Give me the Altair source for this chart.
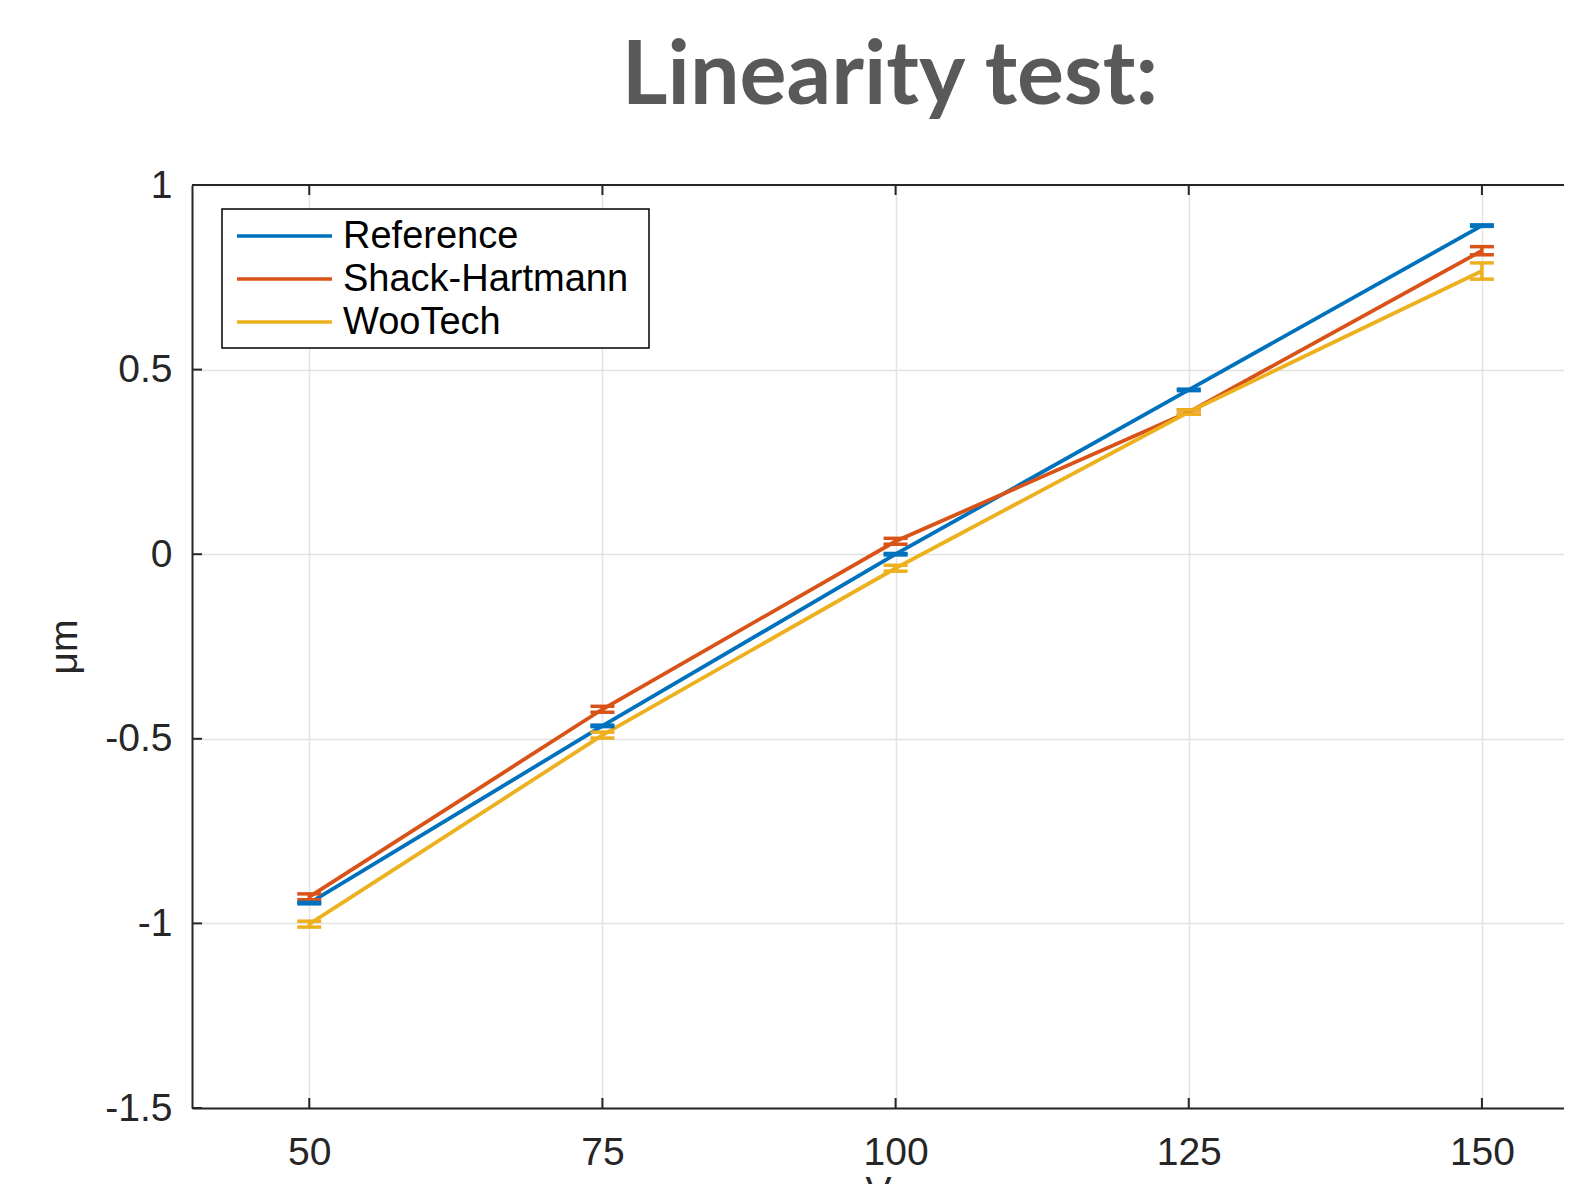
import altair as alt
import pandas as pd

# ---- data ----
voltages = [50, 75, 100, 125, 150]
series_names = ["Reference", "Shack-Hartmann", "WooTech"]
series_colors = ["#0072BD", "#D95319", "#EDB120"]

reference_um = [-0.945, -0.465, 0.000, 0.445, 0.890]
reference_err = [0.002, 0.002, 0.002, 0.002, 0.002]
shack_um = [-0.928, -0.420, 0.035, 0.385, 0.822]
shack_err = [0.008, 0.008, 0.008, 0.006, 0.011]
woo_um = [-1.002, -0.490, -0.038, 0.385, 0.767]
woo_err = [0.008, 0.008, 0.008, 0.006, 0.022]

x_ticks = [50, 75, 100, 125, 150]
y_ticks = [-1.5, -1, -0.5, 0, 0.5, 1]

# ---- layout ----
W, H = 1372, 923
FONT = "Liberation Sans"
AXIS_COLOR = "#262626"

rows = []
for name, vals, errs in [
    ("Reference", reference_um, reference_err),
    ("Shack-Hartmann", shack_um, shack_err),
    ("WooTech", woo_um, woo_err),
]:
    for v, m, e in zip(voltages, vals, errs):
        rows.append({"series": name, "V": v, "um": m, "lo": m - e, "hi": m + e})
df = pd.DataFrame(rows)

xscale = alt.Scale(domain=[40, 157], nice=False, zero=False)
yscale = alt.Scale(domain=[-1.5, 1], nice=False, zero=False)

xaxis = alt.Axis(
    values=x_ticks, title="V", grid=True, gridColor="#e2e2e2", gridWidth=1.5,
    ticks=False, tickSize=0, labelPadding=25, labelFontSize=39, labelFont=FONT,
    labelColor=AXIS_COLOR, domainColor=AXIS_COLOR, domainWidth=2,
    titleFont=FONT, titleFontSize=39, titleFontWeight="normal", titleColor=AXIS_COLOR,
    titlePadding=0, labelFlush=False,
)
yaxis = alt.Axis(
    values=y_ticks, title="μm", grid=True, gridColor="#e2e2e2", gridWidth=1.5,
    ticks=False, tickSize=0, labelPadding=20, labelFontSize=39, labelFont=FONT,
    labelColor=AXIS_COLOR, domainColor=AXIS_COLOR, domainWidth=2,
    labelExpr="'' + datum.value",
    titleFont=FONT, titleFontSize=39, titleFontWeight="normal", titleColor=AXIS_COLOR,
    titlePadding=20, labelFlush=False,
)

color = alt.Color("series:N", scale=alt.Scale(domain=series_names, range=series_colors), legend=None)
X = alt.X("V:Q", scale=xscale, axis=xaxis)

base = alt.Chart(df)

lines = base.mark_line(strokeWidth=3.8).encode(
    x=X, y=alt.Y("um:Q", scale=yscale, axis=yaxis), color=color, detail="series:N",
    order=alt.Order("V:Q"),
)
err_rule = base.mark_rule(strokeWidth=3.5).encode(
    x=X, y=alt.Y("lo:Q", scale=yscale, axis=yaxis), y2="hi:Q", color=color
)
cap_lo = base.mark_tick(orient="horizontal", size=24, thickness=3.5, opacity=1).encode(
    x=X, y=alt.Y("lo:Q", scale=yscale, axis=yaxis), color=color
)
cap_hi = base.mark_tick(orient="horizontal", size=24, thickness=3.5, opacity=1).encode(
    x=X, y=alt.Y("hi:Q", scale=yscale, axis=yaxis), color=color
)

# inner (MATLAB-style) ticks
xt_df = pd.DataFrame({"V": x_ticks})
yt_df = pd.DataFrame({"um": y_ticks})
tick_bottom = alt.Chart(xt_df).mark_rule(color=AXIS_COLOR, strokeWidth=2).encode(
    x=X, y=alt.value(H), y2=alt.value(H - 10)
)
tick_top = alt.Chart(xt_df).mark_rule(color=AXIS_COLOR, strokeWidth=2).encode(
    x=X, y=alt.value(0), y2=alt.value(10)
)
tick_left = alt.Chart(yt_df).mark_rule(color=AXIS_COLOR, strokeWidth=2).encode(
    y=alt.Y("um:Q", scale=yscale, axis=yaxis), x=alt.value(0), x2=alt.value(10)
)

one = pd.DataFrame({"k": [0]})
top_border = alt.Chart(one).mark_rule(color=AXIS_COLOR, strokeWidth=2).encode(
    x=alt.value(0), x2=alt.value(W), y=alt.value(0)
)

# legend (drawn as a box like MATLAB's)
legend_box = alt.Chart(one).mark_rect(fill="white", stroke="black", strokeWidth=1.5).encode(
    x=alt.value(30), x2=alt.value(457), y=alt.value(24), y2=alt.value(163)
)
legend_layers = [legend_box]
for i, (name, col) in enumerate(zip(series_names, series_colors)):
    yy = 51 + 43 * i
    legend_layers.append(
        alt.Chart(one).mark_rule(color=col, strokeWidth=3.5).encode(
            x=alt.value(45), x2=alt.value(140), y=alt.value(yy)
        )
    )
    legend_layers.append(
        alt.Chart(one).mark_text(text=name, align="left", baseline="middle",
                                 font=FONT, fontSize=38, color="black").encode(
            x=alt.value(151), y=alt.value(yy + 1)
        )
    )

chart = alt.layer(
    lines, err_rule, cap_lo, cap_hi, tick_bottom, tick_top, tick_left, top_border,
    *legend_layers
).properties(
    width=W, height=H,
    title=alt.TitleParams(
        "Linearity test:", font="Lato", fontSize=88, fontWeight="bold",
        color="#595959", anchor="middle", frame="group", offset=44, dx=12,
    ),
    autosize=alt.AutoSizeParams(type="none"),
    padding={"left": 184, "top": 177, "right": 0, "bottom": 76},
).configure_view(stroke=None).configure(background="white")

chart.save("out.html", embed_options={"renderer": "svg", "actions": False})
